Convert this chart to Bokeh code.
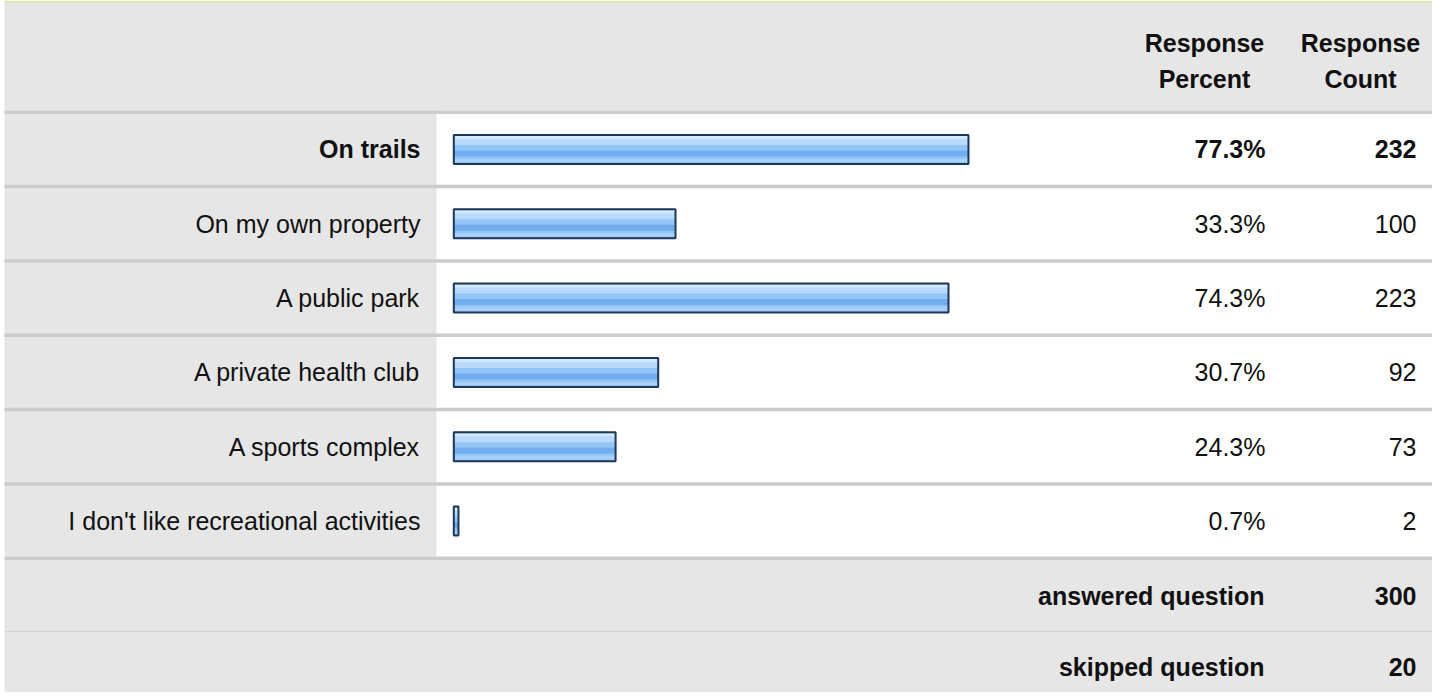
from bokeh.plotting import figure
from bokeh.models import Range1d, ColumnDataSource
from bokeh.core.properties import value
from bokeh.embed import file_html
from bokeh.resources import INLINE

# ---- data ----
categories = ["On trails", "On my own property", "A public park",
              "A private health club", "A sports complex",
              "I don't like recreational activities"]
percents = [77.3, 33.3, 74.3, 30.7, 24.3, 0.7]
counts = [232, 100, 223, 92, 73, 2]
header_percent = ["Response", "Percent"]
header_count = ["Response", "Count"]
summary_labels = ["answered question", "skipped question"]
summary_values = [300, 20]

# ---- layout helpers (pixels -> percent units on x) ----
X0 = 453.3          # pixel position of 0 %
K = 6.658           # pixels per percent
def px(v):
    return (v - X0) / K

W, H = 1432, 692
FONT = value("Liberation Sans")
FS = "25px"
TXT = "#111111"
GRAY = "#e6e6e6"
SEP = "#cccccc"

PITCH = 74.33
SEP_TOP = 110.0
SEP_H = 3.5
n = len(categories)
row_centers = [SEP_TOP + SEP_H + (PITCH - SEP_H) / 2 + i * PITCH for i in range(n)]

p = figure(width=W, height=H, x_range=Range1d(px(0), px(W)),
           y_range=Range1d(H, 0), output_backend="svg", toolbar_location=None,
           x_axis_type=None, y_axis_type=None, min_border=0)
p.grid.visible = False
p.outline_line_color = None
p.background_fill_color = "white"
p.border_fill_color = "white"

L, R = px(4), px(1433)
last_sep = SEP_TOP + n * PITCH
# backgrounds
p.quad(left=L, right=R, top=0, bottom=3, fill_color="#dde5b4", line_color=None)
p.quad(left=L, right=R, top=3, bottom=SEP_TOP, fill_color=GRAY, line_color=None)
p.quad(left=L, right=px(436), top=SEP_TOP, bottom=last_sep, fill_color=GRAY, line_color=None)
p.quad(left=L, right=R, top=last_sep + SEP_H, bottom=630, fill_color=GRAY, line_color=None)
p.quad(left=L, right=R, top=630, bottom=632, fill_color="#d2d2d2", line_color=None)
p.quad(left=L, right=R, top=632, bottom=H, fill_color=GRAY, line_color=None)
# separators
sep_y = [SEP_TOP + SEP_H / 2 + i * PITCH for i in range(n + 1)]
p.hbar(y=sep_y, left=L, right=R, height=SEP_H, fill_color=SEP, line_color=None)

# bars (gradient approximated by stripes)
src = ColumnDataSource(dict(y=row_centers, pct=percents,
                            y_top=[c - 8.5 for c in row_centers],
                            y_band=[c + 4 for c in row_centers],
                            y_hi=[c - 12 for c in row_centers],
                            y_lo=[c + 11 for c in row_centers]))
BH = 29
p.hbar(y="y", left=0, right="pct", height=BH, source=src, fill_color="#93c5f6", line_color=None)
p.hbar(y="y_top", left=0, right="pct", height=8, source=src, fill_color="#b9dafb", line_color=None)
p.hbar(y="y_hi", left=0, right="pct", height=3, source=src, fill_color="#d3e9fd", line_color=None)
p.hbar(y="y_band", left=0, right="pct", height=6, source=src, fill_color="#72aeef", line_color=None)
p.hbar(y="y_lo", left=0, right="pct", height=3, source=src, fill_color="#a9d2f9", line_color=None)
p.hbar(y="y", left=0, right="pct", height=BH, source=src, fill_color=None,
       line_color="#1d3659", line_width=2)

# row texts
styles = ["bold"] + ["normal"] * (n - 1)
tsrc = ColumnDataSource(dict(y=row_centers, label=categories,
                             pct=[f"{v:.1f}%" for v in percents],
                             cnt=[str(c) for c in counts], style=styles))
common = dict(source=tsrc, text_font=FONT, text_font_size=FS, text_color=TXT,
              text_baseline="middle", text_align="right", text_font_style="style")
p.text(x=px(420), y="y", text="label", **common)
p.text(x=px(1265), y="y", text="pct", **common)
p.text(x=px(1416), y="y", text="cnt", **common)

# header
hsrc = ColumnDataSource(dict(x=[px(1204)] * 2 + [px(1360)] * 2,
                             y=[42, 78, 42, 78],
                             t=header_percent + header_count))
p.text(x="x", y="y", text="t", source=hsrc, text_font=FONT, text_font_size=FS,
       text_color=TXT, text_baseline="middle", text_align="center",
       text_font_style="bold")

# summary rows
ssrc = ColumnDataSource(dict(y=[595, 666], lab=summary_labels,
                             val=[str(v) for v in summary_values]))
scommon = dict(source=ssrc, text_font=FONT, text_font_size=FS, text_color=TXT,
               text_baseline="middle", text_align="right", text_font_style="bold")
p.text(x=px(1264), y="y", text="lab", **scommon)
p.text(x=px(1416), y="y", text="val", **scommon)

open("out.html", "w").write(file_html(p, INLINE))
